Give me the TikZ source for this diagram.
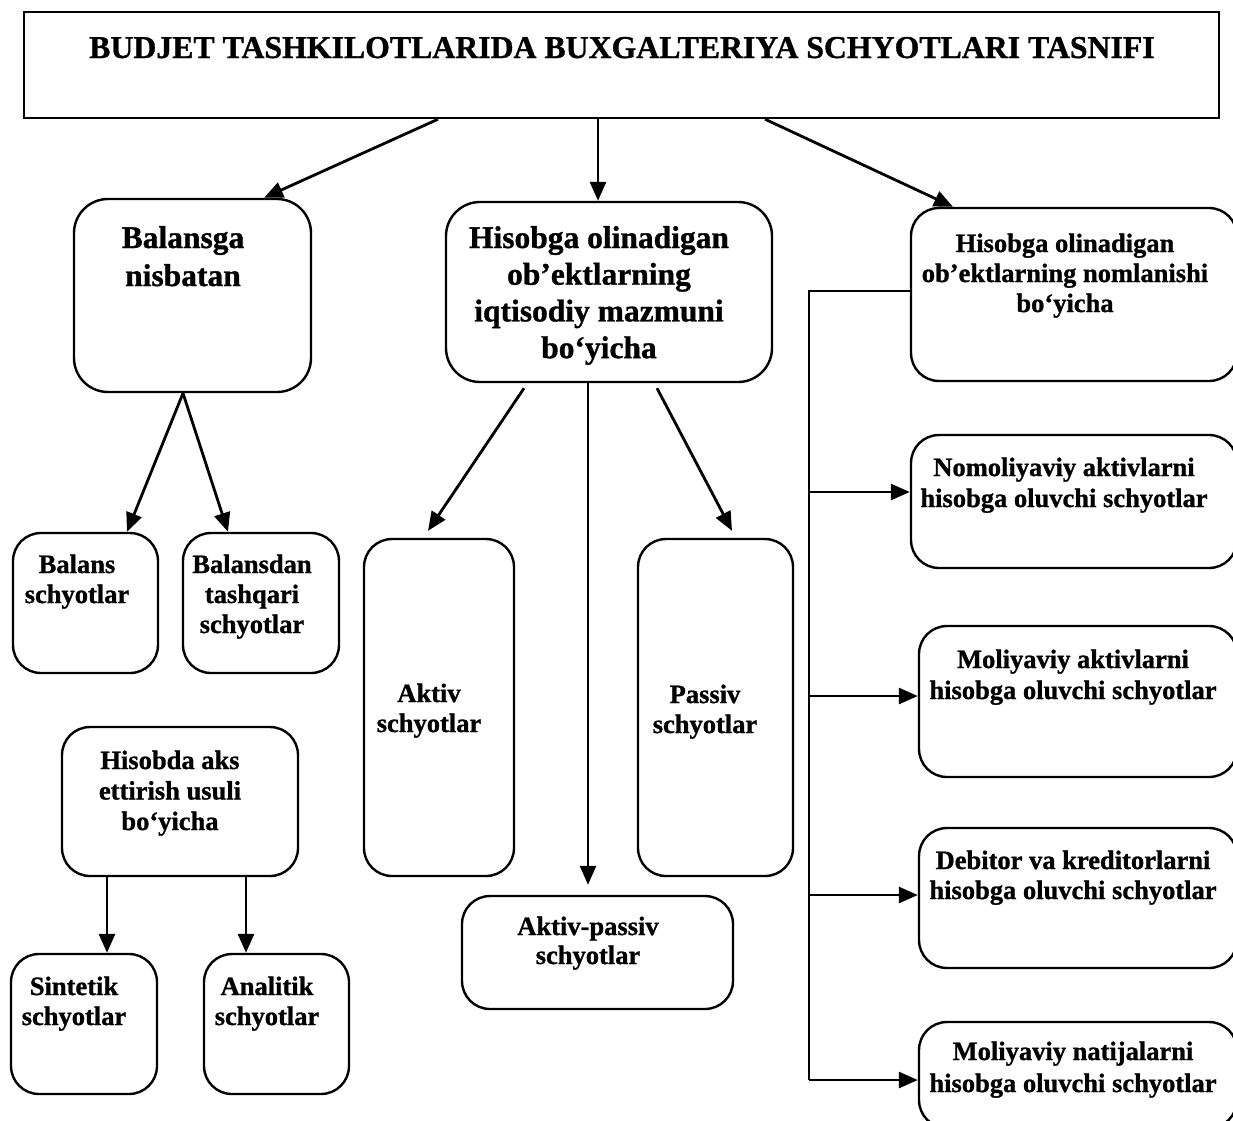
\documentclass[tikz,border=0pt]{standalone}
\usepackage{fontspec}
\setmainfont{Liberation Serif}[BoldFeatures={FakeBold=1}]
\usetikzlibrary{arrows.meta}

% centred block of lines whose baseline is the first line's baseline
\newcommand\boxlines[1]{\begin{tabular}[t]{@{}c@{}}#1\end{tabular}}

\begin{document}
\begin{tikzpicture}[x=1pt,y=-1pt,
  box/.style={draw, line width=2.4pt, rounded corners=28pt, inner sep=0pt},
  bigbox/.style={box, rounded corners=34pt},
  txt/.style={anchor=base, inner sep=0pt},
  bigtxt/.style={txt, font=\bfseries\fontsize{31.5}{37}\selectfont},
  smalltxt/.style={txt, font=\bfseries\fontsize{26.5}{30.5}\selectfont},
  arr/.style={line width=2.8pt, -{Triangle[length=19pt,width=16pt]}},
  plain/.style={line width=2.6pt}
]
\useasboundingbox (0,0) rectangle (1233,1120);
\clip (0,0) rectangle (1233,1120);

% ---------- boxes ----------
\node[draw, line width=2.4pt, inner sep=0pt, minimum width=1195pt, minimum height=106pt] (title) at (621.5,65) {};
\node[bigbox, minimum width=237pt, minimum height=193pt] (balansga) at (192.5,295.5) {};
\node[bigbox, minimum width=326pt, minimum height=180pt] (iqtisod) at (609,292) {};
\node[box, minimum width=326pt, minimum height=173pt] (nomlanish) at (1074,294.5) {};

\node[box, minimum width=145pt, minimum height=140pt] (balans) at (85.5,603) {};
\node[box, minimum width=156pt, minimum height=140pt] (balansdan) at (261,603) {};
\node[box, minimum width=236pt, minimum height=149pt] (hisobda) at (180,801.5) {};
\node[box, minimum width=146pt, minimum height=140pt] (sintetik) at (84,1024) {};
\node[box, minimum width=145pt, minimum height=140pt] (analitik) at (276.5,1024) {};

\node[box, minimum width=150pt, minimum height=337pt] (aktiv) at (439,707.5) {};
\node[box, minimum width=155pt, minimum height=337pt] (passiv) at (715.5,707.5) {};
\node[box, minimum width=271pt, minimum height=113pt] (aktivpassiv) at (597.5,952.5) {};

\node[box, minimum width=326pt, minimum height=133pt] (nomoliya) at (1074,501.5) {};
\node[box, minimum width=318pt, minimum height=151pt] (moliya) at (1078,701.5) {};
\node[box, minimum width=318pt, minimum height=140pt] (debitor) at (1078,898) {};
\node[box, minimum width=318pt, minimum height=106pt] (natija) at (1078,1075) {};

% ---------- texts ----------
\node[txt, font=\bfseries\fontsize{31.8}{37}\selectfont] (title-t) at (622,58)
  {BUDJET TASHKILOTLARIDA BUXGALTERIYA SCHYOTLARI TASNIFI};
\node[bigtxt, font=\bfseries\fontsize{31.5}{38}\selectfont] (balansga-t) at (183,248)
  {\boxlines{Balansga\\nisbatan}};
\node[bigtxt, font=\bfseries\fontsize{31.5}{36.7}\selectfont] (iqtisod-t) at (599,248)
  {\boxlines{Hisobga olinadigan\\ob’ektlarning\\iqtisodiy mazmuni\\bo‘yicha}};
\node[smalltxt, font=\bfseries\fontsize{26.5}{30}\selectfont] (nomlanish-t) at (1065,252)
  {\boxlines{Hisobga olinadigan\\ob’ektlarning nomlanishi\\bo‘yicha}};

\node[smalltxt, font=\bfseries\fontsize{26.5}{30}\selectfont] (balans-t) at (77,573)
  {\boxlines{Balans\\schyotlar}};
\node[smalltxt, font=\bfseries\fontsize{26.5}{30}\selectfont] (balansdan-t) at (252,573)
  {\boxlines{Balansdan\\tashqari\\schyotlar}};
\node[smalltxt] (hisobda-t) at (170,769)
  {\boxlines{Hisobda aks\\ettirish usuli\\bo‘yicha}};
\node[smalltxt, font=\bfseries\fontsize{26.5}{30}\selectfont] (sintetik-t) at (74,995)
  {\boxlines{Sintetik\\schyotlar}};
\node[smalltxt, font=\bfseries\fontsize{26.5}{30}\selectfont] (analitik-t) at (267,995)
  {\boxlines{Analitik\\schyotlar}};

\node[smalltxt, font=\bfseries\fontsize{26.5}{30}\selectfont] (aktiv-t) at (429,702)
  {\boxlines{Aktiv\\schyotlar}};
\node[smalltxt, font=\bfseries\fontsize{26.5}{30}\selectfont] (passiv-t) at (705,703)
  {\boxlines{Passiv\\schyotlar}};
\node[smalltxt, font=\bfseries\fontsize{26.5}{29}\selectfont] (aktivpassiv-t) at (588,935)
  {\boxlines{Aktiv-passiv\\schyotlar}};

\node[smalltxt, font=\bfseries\fontsize{26.5}{31}\selectfont] (nomoliya-t) at (1064,476)
  {\boxlines{Nomoliyaviy aktivlarni\\hisobga oluvchi schyotlar}};
\node[smalltxt, font=\bfseries\fontsize{26.5}{31}\selectfont] (moliya-t) at (1073,668)
  {\boxlines{Moliyaviy aktivlarni\\hisobga oluvchi schyotlar}};
\node[smalltxt, font=\bfseries\fontsize{26.5}{30}\selectfont] (debitor-t) at (1073,869)
  {\boxlines{Debitor va kreditorlarni\\hisobga oluvchi schyotlar}};
\node[smalltxt, font=\bfseries\fontsize{26.5}{32}\selectfont] (natija-t) at (1073,1060)
  {\boxlines{Moliyaviy natijalarni\\hisobga oluvchi schyotlar}};

% ---------- connectors from the title ----------
\draw[arr] ([xshift=-183.5pt]title.south) -- ([xshift=71.5pt]balansga.north);
\draw[arr] ([xshift=-23.5pt]title.south) -- ([xshift=-11pt]iqtisod.north);
\draw[arr] ([xshift=143.5pt]title.south) -- ([xshift=-121pt]nomlanish.north);

% ---------- by balance ----------
\draw[arr] ([xshift=-9.5pt]balansga.south) -- ([xshift=41.5pt]balans.north);
\draw[arr] ([xshift=-9.5pt]balansga.south) -- ([xshift=-33pt]balansdan.north);

% ---------- by economic content ----------
\draw[arr] ([xshift=-85pt,yshift=-5pt]iqtisod.south) -- ([xshift=-11pt,yshift=7pt]aktiv.north);
\draw[arr] ([xshift=48pt,yshift=-5pt]iqtisod.south) -- ([xshift=16.5pt,yshift=7pt]passiv.north);
\draw[arr, line width=2.4pt] ([xshift=-21pt]iqtisod.south) -- ([xshift=-9.5pt,yshift=10pt]aktivpassiv.north);

% ---------- by method of reflection ----------
\draw[arr] ([xshift=-73pt]hisobda.south) -- ([xshift=23pt]sintetik.north);
\draw[arr] ([xshift=66pt]hisobda.south) -- ([xshift=-30.5pt]analitik.north);

% ---------- by name of objects: trunk line ----------
\coordinate (trunk) at (809,0);
\coordinate (h0) at ([yshift=3.5pt]nomlanish.west);
\coordinate (a1) at ([yshift=9.5pt]nomoliya.west);
\coordinate (a2) at ([yshift=5.5pt]moliya.west);
\coordinate (a3) at ([yshift=3pt]debitor.west);
\coordinate (a4) at ([yshift=-5pt]natija.west);
\draw[plain] (h0) -- (h0 -| trunk) -- (a4 -| trunk);
\draw[arr] (a1 -| trunk) -- (a1);
\draw[arr] (a2 -| trunk) -- (a2);
\draw[arr] (a3 -| trunk) -- (a3);
\draw[arr] (a4 -| trunk) -- (a4);
\end{tikzpicture}
\end{document}
